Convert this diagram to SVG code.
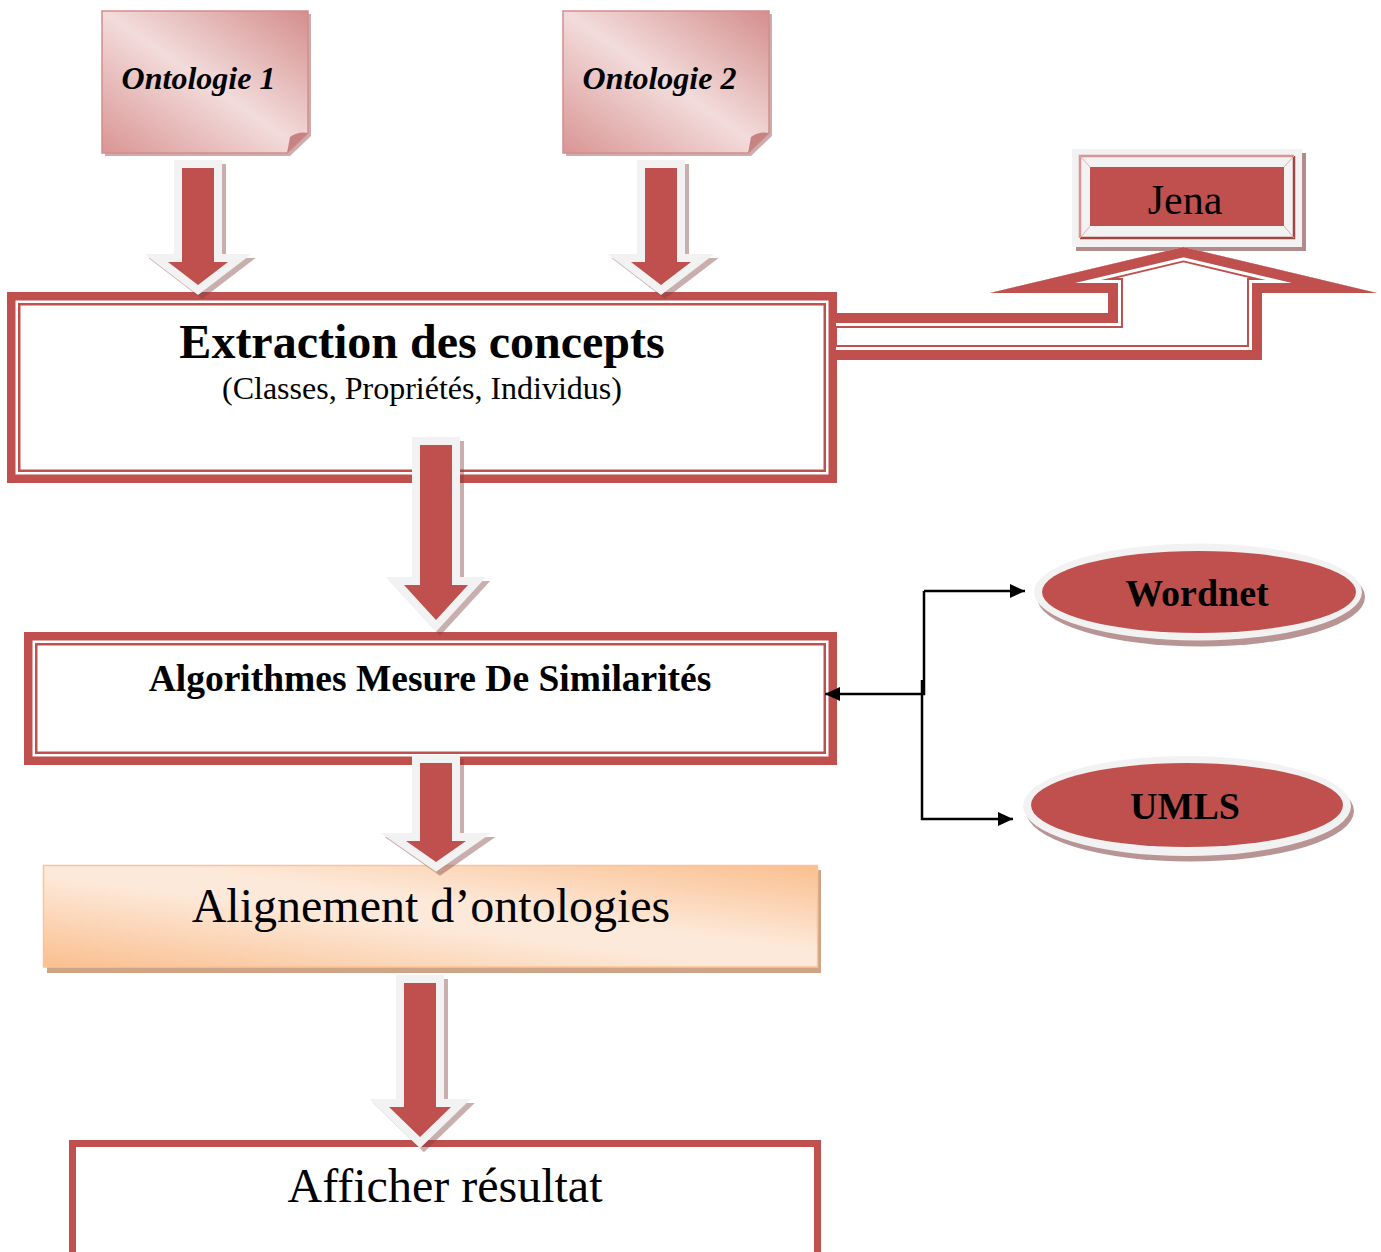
<svg xmlns="http://www.w3.org/2000/svg" xmlns:xlink="http://www.w3.org/1999/xlink" width="1381" height="1252" viewBox="0 0 1381 1252">
  <style>
    .serif { font-family: "Liberation Serif", "Times New Roman", serif; fill: #000; }
    .bold { font-weight: bold; }
    .note { fill: url(#noteGrad); stroke: #d48d8c; stroke-width: 1.5; }
    .note-shadow { fill: #9a5a5a; opacity: 0.5; }
    .fold { fill: #c78281; }
    .frame-thick { fill: #fff; stroke: #c0504d; stroke-width: 8.5; }
    .frame-thin { fill: none; stroke: #c0504d; stroke-width: 2.5; }
    .arr { fill: #c0504d; stroke: #f2f2f2; stroke-width: 16; paint-order: stroke; stroke-linejoin: miter; stroke-miterlimit: 6; }
    .arr-shadow { fill: #7f3f3f; stroke: #7f3f3f; stroke-width: 16; stroke-linejoin: miter; stroke-miterlimit: 6; opacity: 0.42; }
    .link { fill: none; stroke: #000; stroke-width: 2.5; }
  </style>
  <defs>
    <linearGradient id="noteGrad" x1="0" y1="1" x2="1" y2="0">
      <stop offset="0" stop-color="#d99594"/>
      <stop offset="0.5" stop-color="#f2dcdb"/>
      <stop offset="1" stop-color="#d48e8d"/>
    </linearGradient>
    <linearGradient id="peachGrad" x1="0" y1="1" x2="1" y2="0">
      <stop offset="0" stop-color="#fabf8f"/>
      <stop offset="0.45" stop-color="#fde9d9"/>
      <stop offset="0.58" stop-color="#fde9d9"/>
      <stop offset="1" stop-color="#fabf8f"/>
    </linearGradient>
    <marker id="tip" viewBox="0 0 15 14" refX="15" refY="7" markerWidth="15" markerHeight="14" markerUnits="userSpaceOnUse" orient="auto">
      <path d="M0,0 L15,7 L0,14 Z" fill="#000"/>
    </marker>
    <!-- block arrow outlines (red body; white rim comes from the stroke) -->
    <polygon id="a1" points="182,168 214,168 214,262 228,262 198,285 168,262 182,262"/>
    <polygon id="a2" points="645,168 677,168 677,262 691,262 661,285 631,262 645,262"/>
    <polygon id="a3" points="420,445 452,445 452,585 468,585 436,620 404,585 420,585"/>
    <polygon id="a4" points="420,763 452,763 452,841 466,841 436,862 406,841 420,841"/>
    <polygon id="a5" points="404,983 436,983 436,1107 451,1107 420,1137 389,1107 404,1107"/>
    <!-- bent up-arrow towards Jena: outline and the stroked rim path -->
    <clipPath id="jenaClip">
      <polygon points="836,313 1108,313 1108,293 990,293 1183.5,247 1377,293 1262,293 1262,360 836,360"/>
    </clipPath>
    <path id="jenaRim" d="M780,313 H1108 V293 H990 L1183.5,247 L1377,293 H1262 V360 H780" fill="none"/>
  </defs>

  <rect width="1381" height="1252" fill="#fff"/>

  <!-- Ontologie 1 -->
  <g id="ontologie1">
    <path class="note-shadow" d="M105,14 H311 V136 L290,156 H105 Z"/>
    <path class="note" d="M102,11 H308 V133 L287,153 H102 Z"/>
    <path class="fold" d="M287,153 L290,137 Q298,131 308,133 Z"/>
    <text class="serif bold" x="198.5" y="89" font-size="32" font-style="italic" text-anchor="middle">Ontologie 1</text>
  </g>

  <!-- Ontologie 2 -->
  <g id="ontologie2">
    <path class="note-shadow" d="M566,14 H772 V136 L751,156 H566 Z"/>
    <path class="note" d="M563,11 H769 V133 L748,153 H563 Z"/>
    <path class="fold" d="M748,153 L751,137 Q759,131 769,133 Z"/>
    <text class="serif bold" x="659.5" y="89" font-size="32" font-style="italic" text-anchor="middle">Ontologie 2</text>
  </g>

  <!-- Extraction des concepts -->
  <g id="extraction">
    <rect class="frame-thick" x="11.25" y="296.25" width="821.5" height="182.5"/>
    <rect class="frame-thin" x="19.25" y="304.25" width="805.5" height="166.5"/>
    <text class="serif bold" x="422" y="358" font-size="48" text-anchor="middle">Extraction des concepts</text>
    <text class="serif" x="422" y="399" font-size="32" text-anchor="middle">(Classes, Propriétés, Individus)</text>
  </g>

  <!-- Jena -->
  <g id="jena">
    <rect x="1076" y="153" width="230" height="98" fill="#b38b8b"/>
    <rect x="1072" y="149" width="230" height="98" fill="#f2f2f2"/>
    <path d="M1080,238 V156 H1294" fill="none" stroke="#d99594" stroke-width="2.5"/>
    <path d="M1294,156 V238 H1080" fill="none" stroke="#a04542" stroke-width="2.5"/>
    <path d="M1080,156 L1090,167 M1294,156 L1284,167 M1080,238 L1090,226 M1294,238 L1284,226" stroke="#e0b0af" stroke-width="1"/>
    <rect x="1090" y="167" width="194" height="59" fill="#c0504d"/>
    <text class="serif" x="1185" y="214" font-size="42" text-anchor="middle">Jena</text>
  </g>

  <!-- Algorithmes Mesure De Similarités -->
  <g id="algorithmes">
    <rect class="frame-thick" x="28.25" y="636.25" width="804.5" height="124.5"/>
    <rect class="frame-thin" x="36.25" y="644.25" width="788.5" height="108.5"/>
    <text class="serif bold" x="430" y="691" font-size="37.5" text-anchor="middle">Algorithmes Mesure De Similarités</text>
  </g>

  <!-- Wordnet -->
  <g id="wordnet">
    <ellipse cx="1201" cy="597" rx="164" ry="49.5" fill="#b99494"/>
    <ellipse cx="1198" cy="592" rx="164" ry="48.5" fill="#f2f2f2"/>
    <ellipse cx="1199" cy="592" rx="157" ry="41" fill="#c0504d"/>
    <text class="serif bold" x="1197" y="606" font-size="38" text-anchor="middle">Wordnet</text>
  </g>

  <!-- UMLS -->
  <g id="umls">
    <ellipse cx="1190" cy="811" rx="164" ry="50.5" fill="#b99494"/>
    <ellipse cx="1187" cy="806" rx="164" ry="50" fill="#f2f2f2"/>
    <ellipse cx="1187" cy="805" rx="156" ry="42" fill="#c0504d"/>
    <text class="serif bold" x="1185" y="819" font-size="38" text-anchor="middle">UMLS</text>
  </g>

  <!-- Alignement d'ontologies -->
  <g id="alignement">
    <rect x="47" y="870" width="774" height="103" fill="#cfa486"/>
    <rect x="43.5" y="865.5" width="774" height="101.5" fill="url(#peachGrad)" stroke="#f9c49a" stroke-width="1.5"/>
    <text class="serif" x="431" y="922" font-size="48" text-anchor="middle">Alignement d’ontologies</text>
  </g>

  <!-- Afficher résultat -->
  <g id="afficher">
    <rect x="72.5" y="1143.5" width="745" height="200" fill="#fff" stroke="#c0504d" stroke-width="7"/>
    <text class="serif" x="445" y="1202" font-size="48" text-anchor="middle">Afficher résultat</text>
  </g>

  <!-- Connectors -->
  <g id="connectors">
    <!-- double-ruled bent arrow from the extraction box up to Jena -->
    <g clip-path="url(#jenaClip)" fill="none" stroke-linejoin="miter" stroke-miterlimit="20">
      <use xlink:href="#jenaRim" stroke="#c0504d" stroke-width="30"/>
      <use xlink:href="#jenaRim" stroke="#fff" stroke-width="26"/>
      <use xlink:href="#jenaRim" stroke="#c0504d" stroke-width="20"/>
    </g>

    <!-- block arrows between the steps -->
    <use xlink:href="#a1" class="arr-shadow" transform="translate(4,4)"/>
    <use xlink:href="#a1" class="arr"/>
    <use xlink:href="#a2" class="arr-shadow" transform="translate(4,4)"/>
    <use xlink:href="#a2" class="arr"/>
    <use xlink:href="#a3" class="arr-shadow" transform="translate(4,4)"/>
    <use xlink:href="#a3" class="arr"/>
    <use xlink:href="#a4" class="arr-shadow" transform="translate(4,4)"/>
    <use xlink:href="#a4" class="arr"/>
    <use xlink:href="#a5" class="arr-shadow" transform="translate(4,4)"/>
    <use xlink:href="#a5" class="arr"/>

    <!-- resource links -->
    <path class="link" d="M924,591 V694 H825" marker-end="url(#tip)"/>
    <path class="link" d="M924,591 H1025" marker-end="url(#tip)"/>
    <path class="link" d="M922,680 V819 H1013" marker-end="url(#tip)"/>
  </g>
</svg>
